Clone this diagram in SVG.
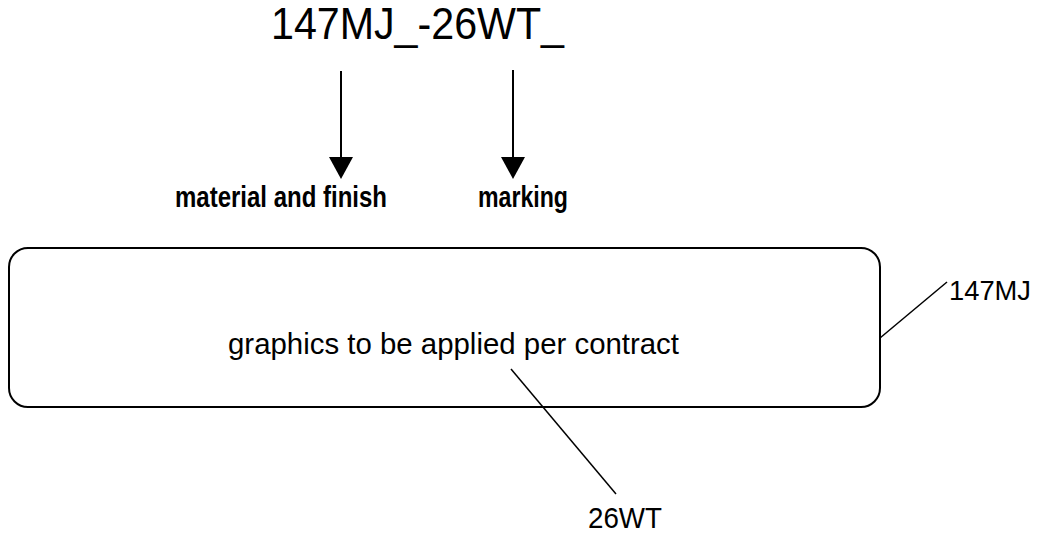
<svg xmlns="http://www.w3.org/2000/svg" width="1038" height="534" viewBox="0 0 1038 534">
<style>
.t{font-family:"Liberation Sans",Arial,Helvetica,sans-serif;fill:#000}
.b{font-weight:bold}
.ln{stroke:#000;fill:none}
.ah{fill:#000;stroke:none}
</style>
<rect width="1038" height="534" fill="#fff"/>
<g id="title"><text class="t" x="417.5" y="39" font-size="44" text-anchor="middle" textLength="293" lengthAdjust="spacingAndGlyphs">147MJ_-26WT_</text></g>
<g id="material"><text class="t b" x="281" y="207" font-size="29" text-anchor="middle" textLength="212" lengthAdjust="spacingAndGlyphs">material and finish</text></g>
<g id="marking"><text class="t b" x="523" y="207" font-size="29" text-anchor="middle" textLength="90" lengthAdjust="spacingAndGlyphs">marking</text></g>
<g id="box">
<rect x="9" y="248" width="871" height="159" rx="19" ry="19" class="ln" stroke-width="2"/>
<text class="t" x="453.5" y="353.5" font-size="30" text-anchor="middle" textLength="451" lengthAdjust="spacingAndGlyphs">graphics to be applied per contract</text>
</g>
<g id="label147"><text class="t" x="949" y="299.5" font-size="28" textLength="82" lengthAdjust="spacingAndGlyphs">147MJ</text></g>
<g id="label26"><text class="t" x="625" y="528" font-size="30" text-anchor="middle" textLength="74" lengthAdjust="spacingAndGlyphs">26WT</text></g>
<g id="connectors">
<line x1="341" y1="71" x2="341" y2="160" class="ln" stroke-width="2"/>
<polygon class="ah" points="329,157 353,157 341,179"/>
<line x1="513" y1="70" x2="513" y2="160" class="ln" stroke-width="2"/>
<polygon class="ah" points="501,157 525,157 513,179"/>
<line x1="880" y1="338" x2="947" y2="282" class="ln" stroke-width="1.5"/>
<line x1="511" y1="369" x2="616" y2="494" class="ln" stroke-width="1.5"/>
</g>
</svg>
